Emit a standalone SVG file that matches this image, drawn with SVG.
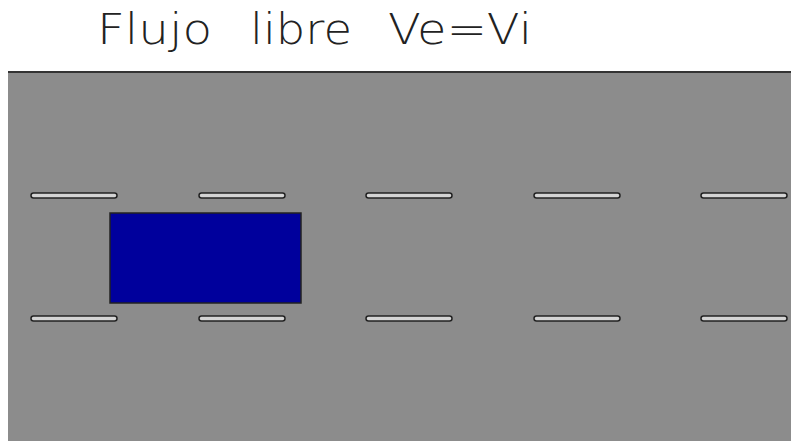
<svg xmlns="http://www.w3.org/2000/svg" width="791" height="441" viewBox="0 0 791 441">
<style>
.t{font-family:"DejaVu Sans","Liberation Sans",sans-serif;font-weight:200;font-size:42px;fill:#222}
.d{fill:#d4d4d4;stroke:#222;stroke-width:1.5}
</style>
<rect width="791" height="441" fill="#fff"/>
<g id="title">
<text class="t" x="97" y="44" textLength="115" lengthAdjust="spacingAndGlyphs">Flujo</text>
<text class="t" x="250" y="44" textLength="102" lengthAdjust="spacingAndGlyphs">libre</text>
<text class="t" x="388" y="44" textLength="144" lengthAdjust="spacingAndGlyphs">Ve=Vi</text>
</g>
<g id="road">
<rect x="8" y="72" width="783" height="369" fill="#8c8c8c"/>
<line x1="8" y1="72" x2="791" y2="72" stroke="#333" stroke-width="2"/>
</g>
<g id="lane-marks">
<rect class="d" x="31" y="193" width="86" height="5" rx="2.5"/>
<rect class="d" x="199" y="193" width="86" height="5" rx="2.5"/>
<rect class="d" x="366" y="193" width="86" height="5" rx="2.5"/>
<rect class="d" x="534" y="193" width="86" height="5" rx="2.5"/>
<rect class="d" x="701" y="193" width="86" height="5" rx="2.5"/>
<rect class="d" x="31" y="316" width="86" height="5" rx="2.5"/>
<rect class="d" x="199" y="316" width="86" height="5" rx="2.5"/>
<rect class="d" x="366" y="316" width="86" height="5" rx="2.5"/>
<rect class="d" x="534" y="316" width="86" height="5" rx="2.5"/>
<rect class="d" x="701" y="316" width="86" height="5" rx="2.5"/>
</g>
<g id="vehicle">
<rect x="110" y="213" width="191" height="90" fill="#00009c" stroke="#222" stroke-width="1.5"/>
</g>
</svg>
